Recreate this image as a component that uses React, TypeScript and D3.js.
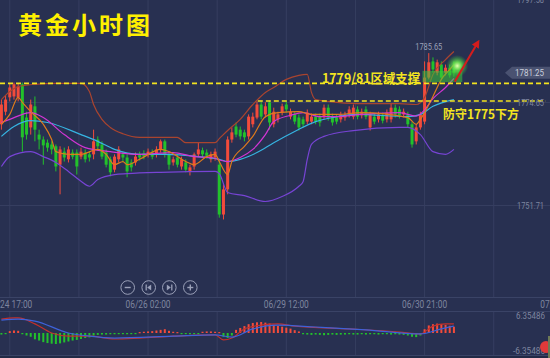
import React from 'react';
import * as d3 from 'd3';

// ---------- price data (hourly gold candles) ----------
const opens = [1769.8,1772.6,1775.8,1776.0,1775.8,1778.7,1771.3,1769.1,1773.8,1767.5,1766.4,1765.7,1765.3,1764.9,1760.8,1763.7,1762.0,1763.5,1763.5,1762.6,1763.5,1763.1,1763.1,1766.4,1765.3,1763.5,1762.0,1759.7,1762.0,1763.1,1762.4,1761.3,1761.3,1763.1,1763.3,1763.1,1763.5,1763.1,1764.2,1766.0,1763.1,1761.3,1762.4,1760.4,1761.3,1759.3,1760.4,1763.1,1764.0,1763.5,1762.0,1762.4,1760.8,1749.7,1755.3,1766.4,1769.3,1768.6,1768.0,1767.1,1769.8,1771.3,1774.2,1772.0,1774.7,1769.8,1770.9,1772.4,1774.2,1771.5,1772.0,1771.3,1770.9,1770.4,1770.4,1771.5,1771.5,1771.5,1773.5,1771.5,1771.3,1770.9,1771.3,1772.0,1771.5,1773.1,1771.8,1773.1,1769.1,1771.5,1770.9,1771.8,1770.9,1770.9,1773.5,1773.1,1772.0,1772.0,1769.8,1766.0,1769.1,1770.4,1780.2,1783.8,1781.3,1783.1,1781.3,1782.4,1782.4];
const closes = [1774.2,1775.3,1778.0,1778.7,1778.2,1766.9,1767.5,1774.2,1768.6,1766.4,1765.1,1764.6,1764.2,1760.4,1764.2,1762.4,1764.2,1762.6,1760.4,1763.7,1762.0,1762.4,1766.0,1764.9,1762.6,1760.8,1759.1,1762.6,1764.2,1762.4,1759.3,1760.2,1762.6,1762.4,1762.6,1763.7,1762.6,1764.2,1766.0,1763.1,1760.8,1762.0,1760.8,1762.0,1759.7,1760.2,1763.1,1764.2,1763.1,1762.8,1763.1,1763.7,1749.7,1755.3,1766.4,1768.0,1767.5,1767.1,1766.9,1771.5,1771.5,1774.2,1771.5,1773.8,1770.2,1772.6,1772.0,1773.8,1773.1,1772.6,1770.4,1769.1,1769.8,1772.4,1771.5,1770.4,1770.2,1773.5,1771.3,1770.2,1770.4,1772.0,1772.0,1773.1,1773.5,1771.5,1772.6,1771.5,1772.0,1770.4,1772.0,1770.6,1772.4,1773.5,1772.0,1771.8,1772.6,1769.8,1765.3,1769.1,1772.0,1780.2,1783.6,1782.0,1783.6,1780.2,1782.4,1780.7,1781.25];
const highs = [1775.3,1776.2,1778.9,1779.1,1778.9,1779.1,1772.6,1775.3,1776.0,1768.6,1767.1,1766.4,1766.0,1765.3,1764.9,1764.6,1764.9,1764.2,1764.2,1764.6,1764.2,1763.7,1768.6,1767.1,1766.0,1764.2,1762.6,1763.1,1764.9,1763.7,1763.1,1762.0,1763.5,1763.7,1764.0,1764.4,1764.2,1764.9,1766.4,1766.4,1763.7,1762.6,1763.1,1762.6,1762.0,1760.8,1763.5,1765.7,1764.6,1764.2,1763.7,1764.4,1762.0,1756.4,1767.1,1769.1,1770.2,1769.3,1768.6,1772.0,1772.4,1774.9,1774.9,1774.7,1775.1,1773.5,1772.6,1774.4,1774.9,1773.3,1772.6,1772.0,1771.5,1773.1,1772.2,1772.2,1772.2,1774.2,1774.2,1772.2,1772.0,1772.6,1772.6,1773.8,1774.2,1773.8,1773.3,1773.8,1772.6,1772.2,1772.6,1772.4,1773.1,1774.4,1774.2,1773.8,1773.3,1772.6,1770.4,1769.8,1772.6,1783.8,1785.65,1784.7,1784.2,1783.8,1783.1,1783.1,1783.8];
const lows = [1768.6,1771.8,1774.9,1775.3,1774.9,1763.7,1766.4,1767.5,1766.0,1764.2,1760.8,1763.7,1763.1,1759.3,1754.2,1761.5,1761.3,1762.0,1758.6,1762.0,1761.3,1761.5,1762.0,1764.2,1762.0,1760.2,1758.2,1759.1,1761.3,1761.5,1758.0,1759.3,1760.6,1761.7,1762.0,1762.4,1762.0,1762.4,1763.5,1762.4,1759.7,1760.6,1760.2,1759.7,1759.1,1758.4,1759.7,1762.6,1762.4,1762.2,1761.3,1761.7,1749.0,1748.6,1754.2,1765.7,1766.9,1766.4,1766.0,1766.4,1769.1,1770.9,1770.9,1771.3,1768.6,1769.1,1770.2,1771.8,1772.4,1770.9,1769.8,1768.4,1769.1,1769.8,1769.8,1769.8,1769.3,1770.9,1770.6,1769.5,1769.8,1770.2,1770.6,1771.3,1770.9,1770.9,1771.1,1770.9,1768.4,1769.8,1770.2,1770.0,1770.2,1770.2,1771.3,1771.1,1771.3,1769.1,1764.6,1765.3,1768.6,1769.8,1779.8,1781.3,1780.7,1779.8,1780.7,1780.2,1780.4];

// ---------- indicator lines (read at sample candles) ----------
const bollUpIdx = [0,2,4,8,13,19,21,22,24,26,29,33,42,44,51,52,54,57,60,63,65,68,71,73,74,75,78,85,95,99,101,103,106,108];
const bollUpVal = [1775.3,1777.1,1778.2,1778.7,1778.9,1778.9,1777.1,1774.2,1770.9,1769.1,1767.7,1766.9,1766.9,1765.7,1765.7,1766.6,1768.4,1770.9,1774.2,1776.9,1778.0,1779.8,1780.7,1780.9,1776.9,1775.3,1774.9,1774.4,1774.4,1774.2,1775.8,1780.9,1784.2,1786.0];
const bollLoIdx = [0,2,7,10,13,16,19,21,23,27,30,38,51,52,54,58,63,67,71,72,73,74,77,84,95,97,100,103,106,108];
const bollLoVal = [1760.4,1762.6,1763.7,1762.6,1761.3,1759.3,1757.1,1756.0,1757.5,1758.6,1758.8,1759.1,1759.3,1758.8,1754.6,1753.9,1752.6,1753.7,1756.0,1757.0,1762.0,1765.3,1767.1,1768.4,1769.1,1769.1,1767.5,1763.7,1763.1,1764.2];
const maMidIdx = [0,3,7,11,19,23,27,33,39,47,52,54,57,61,65,70,75,79,85,97,100,103,108];
const maMidVal = [1767.1,1769.3,1770.6,1770.2,1767.5,1766.0,1764.2,1763.1,1763.1,1762.6,1762.0,1761.5,1762.0,1763.5,1765.7,1768.2,1770.4,1771.3,1772.0,1771.5,1772.0,1773.8,1775.3];
const ma10Idx = [0,2,7,10,15,20,26,33,41,46,50,54,57,60,63,65,69,72,76,80,86,95,99,101,103,106,108];
const ma10Val = [1770.2,1770.9,1772.4,1771.3,1767.5,1764.6,1763.7,1763.1,1763.5,1762.6,1762.4,1761.5,1762.4,1764.2,1767.5,1770.4,1771.8,1772.4,1771.5,1771.5,1772.0,1772.4,1771.6,1773.0,1775.5,1778.0,1780.0];
const ma5Idx = [0,2,4,5,7,10,12,13,16,19,23,25,27,29,30,33,38,40,44,46,49,51,52,54,55,58,60,63,66,71,74,80,86,97,99,100,103,105,107,108];
const ma5Val = [1769.8,1772.0,1775.8,1774.7,1772.6,1769.8,1766.4,1763.7,1763.1,1763.1,1764.2,1763.1,1760.8,1761.5,1760.8,1762.0,1764.2,1763.7,1761.5,1760.8,1762.6,1763.1,1761.5,1758.6,1761.5,1764.9,1767.1,1771.5,1772.4,1772.6,1772.0,1772.0,1772.4,1771.3,1769.8,1770.9,1776.0,1779.8,1782.0,1783.1];

// ---------- MACD ----------
const difIdx = [0,3,4,8,12,16,21,27,33,41,51,53,55,58,62,66,70,83,95,100,103,106,108];
const difVal = [4.4,4.8,4.8,2.9,0,-1.0,-1.0,-1.9,-1.6,-1.0,-0.6,-2.2,-1.6,1.3,2.5,2.9,2.2,1.3,0.3,-0.3,2.2,2.9,2.9];
const deaIdx = [0,4,8,16,21,27,41,51,55,60,66,75,87,100,105,108];
const deaVal = [4.1,4.4,3.8,0,-1.0,-1.6,-1.0,-0.6,-1.3,1.3,2.5,1.9,1.0,-0.3,1.3,2.2];
const macdHist = [-0.5,-0.3,0.6,0.8,0.7,
  -0.4,-0.8,-1.2,-2.0,-2.4,-2.9,-3.2,-3.4,-3.5,-3.3,
  -3.0,-2.7,-2.4,-2.2,-1.9,-1.6,-1.4,-0.8,-0.6,-0.5,
  -0.5,-0.4,-0.4,-0.3,-0.3,-0.4,-0.3,-0.3,
  0.3,0.4,0.5,0.6,0.8,1.0,1.2,0.7,0.4,0.3,
  -0.2,-0.3,-0.2,-0.3,-0.2,
  0.4,0.5,0.5,0.4,0.3,
  -1.2,-1.6,-0.8,
  1.0,1.6,2.2,2.8,3.2,3.4,3.5,3.3,3.0,2.6,2.3,2.0,1.7,1.4,0.9,0.5,
  -0.4,-0.5,-0.6,-0.5,-0.6,-0.7,-0.6,-0.5,-0.6,-0.5,-0.5,-0.4,-0.5,-0.5,-0.4,-0.5,-0.4,-0.4,-0.5,-0.4,-0.4,-0.5,-0.4,-0.5,-0.6,
  -0.8,-1.2,-1.3,-0.8,
  1.2,2.4,2.8,3.0,2.8,2.6,2.3,2.0];

// ---------- axes / annotations ----------
const gridIdx = [2, 18.5, 35, 51.5, 68, 84.5, 101, 117.5];
const timeIdx = [2, 35, 68, 101, 134];
const timeLabels = ['06/24 17:00', '06/26 02:00', '06/29 12:00', '06/30 21:00', '07/02 07:00'];
const priceTicks = [1797.58, 1774.65, 1751.71];
const lastPrice = 1781.25;
const highIdx = 102;
const highPrice = 1785.65;
const supportLevels = [1778.9, 1775.0];
const support2StartIdx = 61.2;
const macdTicks = [6.35486, -6.35486];
const zoneIdx = [100.5, 110];
const zonePrice = [1779.2, 1781.7];
const arrowFrom = [108.2, 1779.3];
const arrowTo = [113.7, 1788.0];

export default function App() {
  const W = 550, H = 358;
  const x = d3.scaleLinear().domain([0, 100]).range([1.4, 420.4]);
  const y = d3.scaleLinear().domain([1751.71, 1774.65]).range([205.5, 102.5]);
  const ym = d3.scaleLinear().domain([-6.35486, 6.35486]).range([353, 313]);

  const mkLine = (idx: number[], vals: number[], ys: any) =>
    d3.line<[number, number]>().x(d => x(d[0])).y(d => ys(d[1])).curve(d3.curveMonotoneX)(
      idx.map((i, k) => [i, vals[k]] as [number, number])
    ) || '';

  const RED = '#f24b3b', GREEN = '#22c22b';
  const gridC = '#363e60', labelC = '#7e859f';
  const yellow = '#f3e41f';

  const lines = [
    { d: mkLine(bollUpIdx, bollUpVal, y), c: '#a9442f' },
    { d: mkLine(bollLoIdx, bollLoVal, y), c: '#7744d4' },
    { d: mkLine(maMidIdx, maMidVal, y), c: '#36b4e2' },
    { d: mkLine(ma10Idx, ma10Val, y), c: '#d235d4' },
    { d: mkLine(ma5Idx, ma5Val, y), c: '#de7a1c' },
  ];

  const btnX = [127.7, 148.7, 169.3, 190.3];

  return (
    <svg width={W} height={H} style={{ position: 'absolute', left: 0, top: 0, display: 'block' }}
      fontFamily="Roboto, 'DejaVu Sans', sans-serif">
      <defs>
        <clipPath id="mainClip"><rect x={0} y={0} width={W} height={297} /></clipPath>
        <clipPath id="macdClip"><rect x={0} y={311} width={W} height={44} /></clipPath>
        <radialGradient id="glow">
          <stop offset="0" stopColor="#e6ffb0" stopOpacity="1" />
          <stop offset="0.35" stopColor="#6ee852" stopOpacity="0.9" />
          <stop offset="1" stopColor="#2fbf2f" stopOpacity="0" />
        </radialGradient>
        <marker id="ah" viewBox="0 0 10 10" refX="6" refY="5" markerWidth="4" markerHeight="4" orient="auto">
          <path d="M0,0 L10,5 L0,10 z" fill="#d41c1c" />
        </marker>
      </defs>
      <rect x={0} y={0} width={W} height={H} fill="#283051" />

      {/* grid */}
      {gridIdx.map((g, k) => (
        <g key={'g' + k}>
          <line x1={x(g)} x2={x(g)} y1={0} y2={297} stroke={gridC} strokeWidth={1} />
          <line x1={x(g)} x2={x(g)} y1={311} y2={355} stroke={gridC} strokeWidth={1} />
        </g>
      ))}
      {priceTicks.map((p, k) => (
        <line key={'hg' + k} x1={0} x2={W} y1={y(p)} y2={y(p)} stroke={gridC} strokeWidth={1} />
      ))}
      <line x1={0} x2={W} y1={297.5} y2={297.5} stroke="#3a4366" />
      <line x1={0} x2={W} y1={311.5} y2={311.5} stroke="#3a4366" />
      <line x1={0} x2={W} y1={355.5} y2={355.5} stroke="#3a4366" />
      <rect x={0} y={356} width={W} height={2} fill="#222a46" />

      <g clipPath="url(#mainClip)">
        {/* candles */}
        {opens.map((o, i) => {
          const c = closes[i];
          const col = c >= o ? RED : GREEN;
          const top = y(Math.max(o, c));
          const h = Math.max(1, Math.abs(y(o) - y(c)));
          return (
            <g key={'c' + i}>
              <line x1={x(i)} x2={x(i)} y1={y(highs[i])} y2={y(lows[i])} stroke={col} strokeWidth={1} />
              <rect x={x(i) - 1.5} y={top} width={3} height={h} fill={col} />
            </g>
          );
        })}
        {/* indicator lines */}
        {lines.map((l, k) => (
          <path key={'l' + k} d={l.d} fill="none" stroke={l.c} strokeWidth={1.2} />
        ))}
      </g>

      {/* support lines */}
      <line x1={0} x2={W} y1={y(supportLevels[0])} y2={y(supportLevels[0])} stroke={yellow} strokeWidth={1.6} strokeDasharray="5,3" />
      <line x1={x(support2StartIdx)} x2={W - 4} y1={y(supportLevels[1])} y2={y(supportLevels[1])} stroke={yellow} strokeWidth={1.6} strokeDasharray="5,3" />

      {/* green zone */}
      <rect x={x(zoneIdx[0])} y={y(zonePrice[1])} width={x(zoneIdx[1]) - x(zoneIdx[0])} height={y(zonePrice[0]) - y(zonePrice[1])}
        fill="#3cc83a" opacity={0.55} />
      <circle cx={x(108.8)} cy={y(1782.8)} r={11} fill="url(#glow)" />

      {/* arrow */}
      <line x1={x(arrowFrom[0])} y1={y(arrowFrom[1])} x2={x(arrowTo[0])} y2={y(arrowTo[1])} stroke="#d41c1c" strokeWidth={2} markerEnd="url(#ah)" />

      {/* title & annotations */}
      <text x={18} y={34} fill="#fff000" fontSize={24} fontWeight={600} letterSpacing={3}
        fontFamily="'Noto Sans CJK SC', sans-serif">黄金小时图</text>
      <text x={322} y={82.5} fill={yellow} fontSize={13} fontWeight={700} textLength={98} lengthAdjust="spacingAndGlyphs"
        fontFamily="'Noto Sans CJK SC', sans-serif">1779/81区域支撑</text>
      <text x={443} y={118.5} fill={yellow} fontSize={12.5} fontWeight={700} textLength={76} lengthAdjust="spacingAndGlyphs"
        fontFamily="'Noto Sans CJK SC', sans-serif">防守1775下方</text>

      {/* high label */}
      <text x={x(highIdx)} y={y(highPrice) - 3} fill="#9aa0b8" fontSize={9} textAnchor="middle" textLength={27} lengthAdjust="spacingAndGlyphs">{highPrice.toFixed(2)}</text>

      {/* price axis labels */}
      {priceTicks.map((p, k) => (
        <text key={'pt' + k} x={544} y={y(p) + 3} fill={labelC} fontSize={9} textAnchor="end" textLength={27} lengthAdjust="spacingAndGlyphs">{p.toFixed(2)}</text>
      ))}
      <path d={`M${505},${y(lastPrice)} L${512},${y(lastPrice) - 6} L${550},${y(lastPrice) - 6} L${550},${y(lastPrice) + 6} L${512},${y(lastPrice) + 6} Z`} fill="#4a5271" />
      <text x={544} y={y(lastPrice) + 3.2} fill="#c9cedb" fontSize={9} textAnchor="end" textLength={29} lengthAdjust="spacingAndGlyphs">{lastPrice.toFixed(2)}</text>

      {/* zoom buttons */}
      {btnX.map((bx, k) => (
        <g key={'b' + k} stroke="#9aa0b8" fill="none" strokeWidth={1}>
          <circle cx={bx} cy={287.5} r={6.8} />
          {k === 0 && <line x1={bx - 3} x2={bx + 3} y1={287.5} y2={287.5} strokeWidth={1.4} />}
          {k === 3 && <g strokeWidth={1.4}><line x1={bx - 3} x2={bx + 3} y1={287.5} y2={287.5} /><line x1={bx} x2={bx} y1={284.5} y2={290.5} /></g>}
          {k === 1 && <g><line x1={bx - 2.5} x2={bx - 2.5} y1={284.5} y2={290.5} strokeWidth={1.3} /><path d={`M${bx + 2.5},${284.5} L${bx - 1.5},${287.5} L${bx + 2.5},${290.5} Z`} fill="#9aa0b8" stroke="none" /></g>}
          {k === 2 && <g><line x1={bx + 2.5} x2={bx + 2.5} y1={284.5} y2={290.5} strokeWidth={1.3} /><path d={`M${bx - 2.5},${284.5} L${bx + 1.5},${287.5} L${bx - 2.5},${290.5} Z`} fill="#9aa0b8" stroke="none" /></g>}
        </g>
      ))}

      {/* time labels */}
      {timeIdx.map((t, k) => (
        <text key={'t' + k} x={x(t)} y={307.5} fill={labelC} fontSize={10} textAnchor="middle" textLength={45} lengthAdjust="spacingAndGlyphs">{timeLabels[k]}</text>
      ))}

      {/* MACD */}
      <g clipPath="url(#macdClip)">
        {macdHist.map((v, i) => (
          <rect key={'h' + i} x={x(i) - 1} width={2} y={v >= 0 ? ym(v) : ym(0)} height={Math.max(1.2, Math.abs(ym(v) - ym(0)))}
            fill={v >= 0 ? RED : GREEN} />
        ))}
        <path d={mkLine(difIdx, difVal, ym)} fill="none" stroke="#c3302c" strokeWidth={1.2} />
        <path d={mkLine(deaIdx, deaVal, ym)} fill="none" stroke="#3d62da" strokeWidth={1.2} />
      </g>
      {macdTicks.map((m, k) => (
        <text key={'m' + k} x={545} y={k === 0 ? 318.5 : 353.5} fill={labelC} fontSize={9} textAnchor="end" textLength={k === 0 ? 29 : 32} lengthAdjust="spacingAndGlyphs">{m.toFixed(5)}</text>
      ))}
      <circle cx={546} cy={347} r={6} fill="#e03a3a" />
      <rect x={548} y={336} width={2} height={22} fill="#6e7a55" />
    </svg>
  );
}
